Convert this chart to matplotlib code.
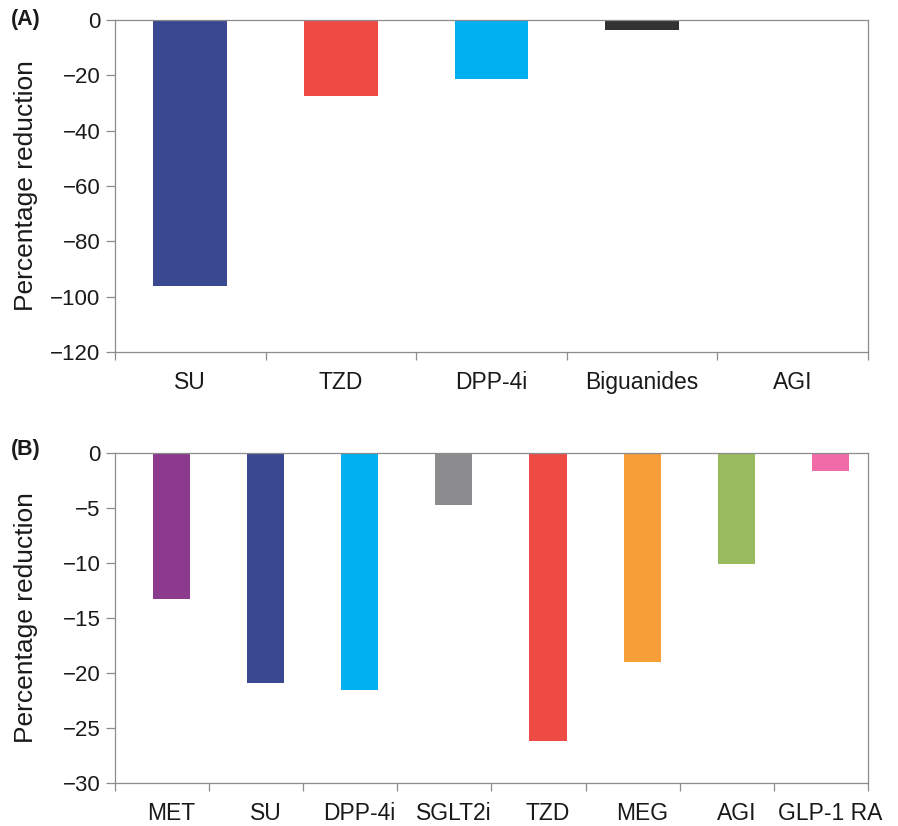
import matplotlib
matplotlib.use("Agg")
import matplotlib.pyplot as plt
from matplotlib.ticker import FixedLocator, NullFormatter

plt.rcParams["font.family"] = ["Liberation Sans", "DejaVu Sans"]

# Panel A: percentage reduction by drug class
cats_a = ["SU", "TZD", "DPP-4i", "Biguanides", "AGI"]
vals_a = [-96, -27.5, -21.3, -3.7, 0]
colors_a = ["#3A4891", "#EE4B45", "#00B0F0", "#333333", "#FFFFFF"]
yticks_a = [0, -20, -40, -60, -80, -100, -120]

# Panel B: percentage reduction by drug class
cats_b = ["MET", "SU", "DPP-4i", "SGLT2i", "TZD", "MEG", "AGI", "GLP-1 RA"]
vals_b = [-13.3, -20.9, -21.5, -4.7, -26.2, -19.0, -10.05, -1.65]
colors_b = ["#8B3A8E", "#3A4891", "#00B0F0", "#8C8C8E", "#EE4B45",
            "#F79E38", "#9ABB5D", "#F06BA8"]
yticks_b = [0, -5, -10, -15, -20, -25, -30]

W, H = 898, 826
fig = plt.figure(figsize=(W / 100, H / 100), dpi=100)
spine_col = "#8c8c8c"
text_col = "#1a1a1a"


def fmt(v):
    s = f"{abs(v):g}"
    return "\u2212" + s if v < 0 else s


def style_axes(ax, n, centers, cats, yticks, ylim):
    ax.set_xlim(0, n)
    ax.set_ylim(*ylim)
    for s in ax.spines.values():
        s.set_color(spine_col)
        s.set_linewidth(0.9)
    ax.set_yticks(yticks)
    ax.set_yticklabels([fmt(t) for t in yticks])
    ax.tick_params(axis="y", direction="out", length=6.5, width=0.9,
                   color=spine_col, labelsize=16, pad=4, labelcolor=text_col)
    # category boundary ticks, labels at bar centres
    ax.xaxis.set_major_locator(FixedLocator(list(range(n + 1))))
    ax.xaxis.set_major_formatter(NullFormatter())
    ax.set_xticks(centers, minor=True)
    ax.set_xticklabels(cats, minor=True)
    ax.tick_params(axis="x", which="major", direction="out", length=5.5,
                   width=0.9, color=spine_col)
    ax.tick_params(axis="x", which="minor", length=0, labelsize=16.5,
                   pad=14, labelcolor=text_col)
    ax.set_ylabel("Percentage reduction", fontsize=19, color=text_col)


# Panel A
axA = fig.add_axes([115 / W, 1 - 352 / H, 753 / W, 332 / H])
centers_a = [i + 0.5 for i in range(len(cats_a))]
axA.bar(centers_a, vals_a, width=0.49, color=colors_a, zorder=2)
style_axes(axA, len(cats_a), centers_a, cats_a, yticks_a, (-120, 0))
axA.yaxis.set_label_coords(-0.102, 0.5)

# Panel B
axB = fig.add_axes([115 / W, 1 - 783 / H, 753 / W, 330 / H])
centers_b = [i + 0.6 for i in range(len(cats_b))]
axB.bar(centers_b, vals_b, width=0.395, color=colors_b, zorder=2)
style_axes(axB, len(cats_b), centers_b, cats_b, yticks_b, (-30, 0))
axB.yaxis.set_label_coords(-0.102, 0.5)

fig.text(11 / W, 1 - 20 / H, "(A)", fontsize=15.5, fontweight="bold",
         va="center", ha="left", color=text_col)
fig.text(11 / W, 1 - 450 / H, "(B)", fontsize=15.5, fontweight="bold",
         va="center", ha="left", color=text_col)

fig.savefig("out.png", dpi=100, facecolor="white")
